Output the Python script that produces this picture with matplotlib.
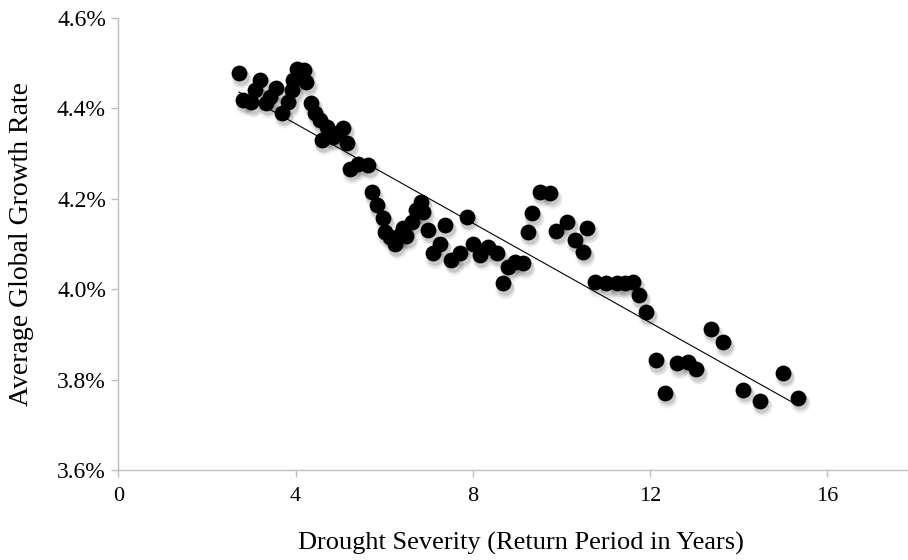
import numpy as np
import matplotlib
matplotlib.use("Agg")
import matplotlib.pyplot as plt
from matplotlib.transforms import offset_copy

# return period (years) and average growth rate (%)
return_period = [2.72, 2.81, 2.99, 3.08, 3.19, 3.33, 3.42, 3.56, 3.69, 3.83,
                 3.92, 3.94, 4.03, 4.19, 4.24, 4.35, 4.44, 4.55, 4.59, 4.71,
                 4.84, 4.95, 5.07, 5.16, 5.23, 5.41, 5.64, 5.72, 5.83, 5.98,
                 6.02, 6.13, 6.24, 6.35, 6.43, 6.50, 6.62, 6.73, 6.84, 6.87,
                 6.99, 7.11, 7.26, 7.37, 7.52, 7.71, 7.86, 8.01, 8.16, 8.35,
                 8.54, 8.69, 8.80, 8.95, 9.14, 9.25, 9.33, 9.51, 9.74, 9.89,
                 10.13, 10.30, 10.49, 10.57, 10.77, 11.02, 11.25, 11.43, 11.62, 11.76,
                 11.91, 12.13, 12.34, 12.61, 12.86, 13.05, 13.37, 13.65, 14.10, 14.48,
                 15.01, 15.35]
growth = [4.478, 4.419, 4.414, 4.440, 4.463, 4.412, 4.425, 4.445, 4.390, 4.414,
          4.440, 4.463, 4.487, 4.485, 4.458, 4.412, 4.390, 4.374, 4.330, 4.359,
          4.337, 4.345, 4.357, 4.323, 4.267, 4.278, 4.275, 4.216, 4.186, 4.157,
          4.127, 4.116, 4.100, 4.120, 4.135, 4.118, 4.149, 4.175, 4.194, 4.171,
          4.131, 4.079, 4.101, 4.142, 4.065, 4.079, 4.160, 4.101, 4.076, 4.094,
          4.079, 4.013, 4.050, 4.061, 4.057, 4.127, 4.168, 4.216, 4.212, 4.129,
          4.149, 4.109, 4.083, 4.135, 4.017, 4.013, 4.013, 4.013, 4.017, 3.987,
          3.950, 3.843, 3.771, 3.836, 3.840, 3.823, 3.913, 3.883, 3.778, 3.753,
          3.815, 3.760]

x_ticks = [0, 4, 8, 12, 16]
y_ticks = [3.6, 3.8, 4.0, 4.2, 4.4, 4.6]

x = np.array(return_period)
y = np.array(growth)

plt.rcParams['font.family'] = ['Liberation Serif', 'DejaVu Serif']

fig = plt.figure(figsize=(9.08, 5.6), dpi=100)
ax = fig.add_axes([118.5 / 908, 1 - 470 / 560, 1 - 118.5 / 908, 452 / 560])

# soft drop shadow under the markers
for dx, dy, a, s in [(1.5, -3.8, 0.05, 210), (1.5, -3.2, 0.07, 170), (1.2, -2.7, 0.10, 135)]:
    tr = offset_copy(ax.transData, fig=fig, x=dx, y=dy, units='points')
    ax.scatter(x, y, s=s, color='black', alpha=a, linewidths=0, transform=tr, zorder=1)

ax.scatter(x, y, s=130, color='black', linewidths=0, zorder=3)

# linear trend line
coef = np.polyfit(x, y, 1)
xl = np.array([x.min(), x.max()])
ax.plot(xl, np.polyval(coef, xl), color='black', lw=0.8, zorder=4)

ax.set_xlim(0, 17.83)
ax.set_ylim(3.6, 4.6)
ax.set_xticks(x_ticks)
ax.set_yticks(y_ticks)
ax.set_yticklabels([f"{v:.1f}%" for v in y_ticks])

for side in ['top', 'right']:
    ax.spines[side].set_visible(False)
for side in ['left', 'bottom']:
    ax.spines[side].set_color('#bfbfbf')
    ax.spines[side].set_linewidth(1.0)

ax.tick_params(axis='both', direction='out', length=5, width=1, color='#bfbfbf',
               labelcolor='black')
ax.tick_params(axis='x', pad=7, labelsize=16)
ax.tick_params(axis='y', pad=4, labelsize=17)

ax.set_xlabel('Drought Severity (Return Period in Years)', fontsize=19)
ax.set_ylabel('Average Global Growth Rate', fontsize=20)
ax.xaxis.set_label_coords(0.51, -0.138)
ax.yaxis.set_label_coords(-0.107, 0.5)

fig.savefig('out.png', dpi=100)
